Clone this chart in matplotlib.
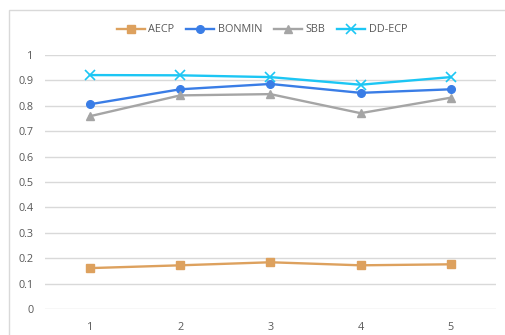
import matplotlib.pyplot as plt
from matplotlib.patches import Rectangle

# series values per run
runs = [1, 2, 3, 4, 5]
aecp = [0.161, 0.172, 0.184, 0.172, 0.176]
bonmin = [0.806, 0.865, 0.886, 0.851, 0.865]
sbb = [0.759, 0.841, 0.846, 0.771, 0.832]
ddecp = [0.921, 0.920, 0.913, 0.883, 0.913]
yticks = [0, 0.1, 0.2, 0.3, 0.4, 0.5, 0.6, 0.7, 0.8, 0.9, 1]
ylabels = ['0', '0.1', '0.2', '0.3', '0.4', '0.5', '0.6', '0.7', '0.8', '0.9', '1']

plt.rcParams['font.family'] = ['Open Sans', 'DejaVu Sans']
txt = '#595959'

fig = plt.figure(figsize=(5.05, 3.35), dpi=100)
# chart border (only top and left edges fall inside the image)
fig.patches.append(Rectangle((9 / 505, -0.1), 1.2, 1.1 - 10 / 335,
                             transform=fig.transFigure, fill=False,
                             edgecolor='#D9D9D9', lw=1))
ax = fig.add_axes([0.0887, 0.0776, 0.8933, 0.7582])

ax.plot(runs, aecp, color='#DDA15E', lw=1.7, marker='s', ms=5.5, label='AECP')
ax.plot(runs, bonmin, color='#3A7DE6', lw=1.7, marker='o', ms=5.5, label='BONMIN')
ax.plot(runs, sbb, color='#A5A5A5', lw=1.7, marker='^', ms=5.5, label='SBB')
ax.plot(runs, ddecp, color='#1CC6F4', lw=1.7, marker='x', ms=7, mew=1.2, label='DD-ECP')

ax.set_xlim(0.5, 5.5)
ax.set_ylim(0, 1)
ax.set_yticks(yticks)
ax.set_yticklabels(ylabels)
ax.set_xticks(runs)
ax.grid(axis='y', color='#D9D9D9', lw=1)
ax.set_axisbelow(True)
for s in ax.spines.values():
    s.set_visible(False)
ax.tick_params(length=0, labelsize=7.8, colors=txt, pad=8)
ax.tick_params(axis='x', pad=9)

ax.legend(loc='center', bbox_to_anchor=(262 / 505, 1 - 30 / 335),
          bbox_transform=fig.transFigure, ncol=4, frameon=False,
          fontsize=7.8, labelcolor=txt, handlelength=2.6, columnspacing=1.1,
          handletextpad=0.3)

fig.savefig('out.png', dpi=100)
